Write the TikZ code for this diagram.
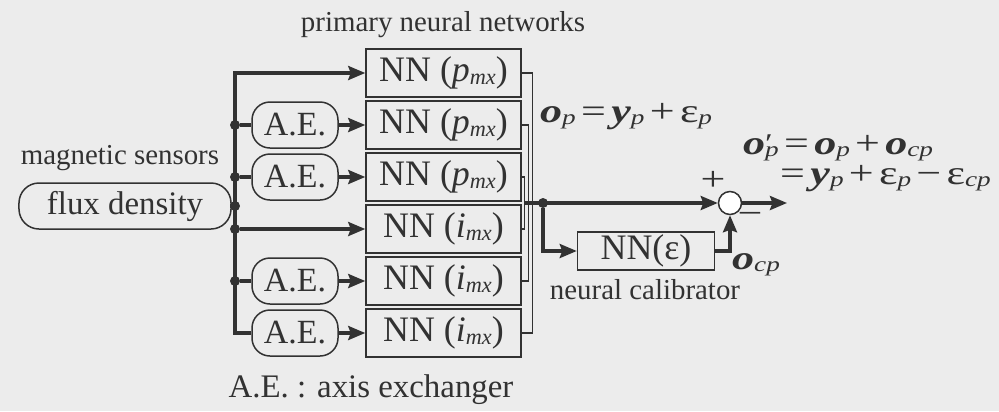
\documentclass[tikz,border=0pt]{standalone}
\usepackage{fontspec}
\setmainfont{Liberation Serif}
\usepackage{graphicx}
\usetikzlibrary{arrows.meta,calc}
\definecolor{ink}{RGB}{50,50,50}
\definecolor{bg}{RGB}{236,236,236}
\newcommand{\sbs}[1]{\raisebox{-0.07em}{\scalebox{0.62}{\mdseries\itshape #1}}}
\newcommand{\bv}[1]{\textbf{\textit{#1}}}
\newcommand{\fs}[1]{\fontsize{#1}{#1}\selectfont}
\newcommand{\gp}{\hspace{0.12em}}
\newcommand{\wide}[1]{\scalebox{1.3}[1]{#1}}
\begin{document}
\begin{tikzpicture}[x=1bp,y=-1bp,
  every node/.style={text=ink},
  nnbox/.style={draw=ink, line width=1.5bp, minimum width=155bp, minimum height=48bp, inner sep=0pt, font=\fs{36}},
  aebox/.style={draw=ink, line width=1.5bp, rounded corners=18bp, minimum width=86bp, minimum height=46bp, inner sep=0pt, font=\fs{34}},
  lbl/.style={inner sep=0pt, font=\fs{29}},
  eq/.style={inner sep=0pt, font=\fs{34}},
  conn/.style={draw=ink, line width=3.4bp},
  arr/.style={conn, -{Stealth[length=17bp,width=14bp,inset=2.5bp]}},
  bus/.style={draw=ink, line width=1.4bp},
  dot/.style={circle, fill=ink, minimum size=10bp, inner sep=0pt}]
\fill[bg] (0,0) rectangle (999,411);
\useasboundingbox (0,0) rectangle (999,411);

\node[lbl] (title) at (443,25) {primary neural networks};
\node[nnbox] (nn1) at (443.5,73) {NN (\textit{p}\sbs{mx})};
\node[nnbox] (nn2) at (443.5,125) {NN (\textit{p}\sbs{mx})};
\node[nnbox] (nn3) at (443.5,177) {NN (\textit{p}\sbs{mx})};
\node[nnbox] (nn4) at (443.5,229) {NN (\textit{i}\sbs{mx})};
\node[nnbox] (nn5) at (443.5,281) {NN (\textit{i}\sbs{mx})};
\node[nnbox] (nn6) at (443.5,333) {NN (\textit{i}\sbs{mx})};

\node[aebox] (ae2) at (295,125) {A.E.};
\node[aebox] (ae3) at (295,177) {A.E.};
\node[aebox] (ae5) at (295,281) {A.E.};
\node[aebox] (ae6) at (295,333) {A.E.};

\node[lbl] (mag) at (120,158) {magnetic sensors};
\node[draw=ink, line width=1.5bp, rounded corners=20bp, minimum width=212bp, minimum height=46bp, inner sep=0pt, font=\fs{33}] (flux) at (125,206) {flux density};

\coordinate (btop) at (235,73);
\coordinate (bbot) at (235,333);
\node[dot] (d2) at (235,125) {};
\node[dot] (d3) at (235,177) {};
\node[dot] (df) at (235,206) {};
\node[dot] (d4) at (235,229) {};
\node[dot] (d5) at (235,281) {};

\draw[arr] (ae6.west) -- (bbot) -- (btop) -- (nn1.west);
\draw[conn] (flux.east) -- (df);
\draw[conn] (d2) -- (ae2.west);
\draw[arr] (ae2.east) -- (nn2.west);
\draw[conn] (d3) -- (ae3.west);
\draw[arr] (ae3.east) -- (nn3.west);
\draw[arr] (d4) -- (nn4.west);
\draw[conn] (d5) -- (ae5.west);
\draw[arr] (ae5.east) -- (nn5.west);
\draw[arr] (ae6.east) -- (nn6.west);

% output bus
\draw[bus] (nn1.east) -- ++(11,0) |- (nn6.east);
\draw[bus] (nn2.east) -- ++(7,0) |- (nn5.east);
\draw[bus] (nn3.east) -- ++(3,0) |- (nn4.east);

\coordinate (jstart) at (524,203);
\node[dot] (jd) at (543,203) {};
\node[circle, draw=ink, line width=1.5bp, minimum size=23bp, inner sep=0pt, fill=white] (sum) at (730,203) {};
\node[draw=ink, line width=1.5bp, minimum width=137bp, minimum height=38bp, inner sep=0pt, font=\fs{36}] (nne) at (646,251) {NN(ε)};

\draw[arr] (jstart) -- (sum.west);
\draw[arr] (jd) |- (nne.west);
\draw[arr] (nne.east) -| (sum.south);
\coordinate (out) at (787,203);
\draw[arr] (sum.east) -- (out);

\node[eq] (plus) at (713,181) {\wide{+}};
\node[eq] (minus) at (750,218) {\wide{−}};
\node[eq] (ocp) at (756,265) {\wide{\bv{o}\sbs{cp}}};
\node[lbl] (cal) at (645,290) {neural calibrator};

\node[eq, anchor=base west] (eq1) at (540,122) {\wide{\bv{o}\sbs{p}\gp=\gp\bv{y}\sbs{p}\gp+\gp ε\sbs{p}}};
\node[eq, anchor=base west] (eq2a) at (743,154) {\wide{\bv{o}\rlap{\raisebox{0.05em}{\scalebox{0.8}{′}}}\sbs{p}\gp=\gp\bv{o}\sbs{p}\gp+\gp\bv{o}\sbs{cp}}};
\node[eq, anchor=base west] (eq2b) at (780,184) {\wide{=\gp\bv{y}\sbs{p}\gp+\gp ε\sbs{p}\gp−\gp ε\sbs{cp}}};

\node[inner sep=0pt, font=\fs{33}] (legend) at (371,390) {A.E. : axis exchanger};
\end{tikzpicture}
\end{document}
